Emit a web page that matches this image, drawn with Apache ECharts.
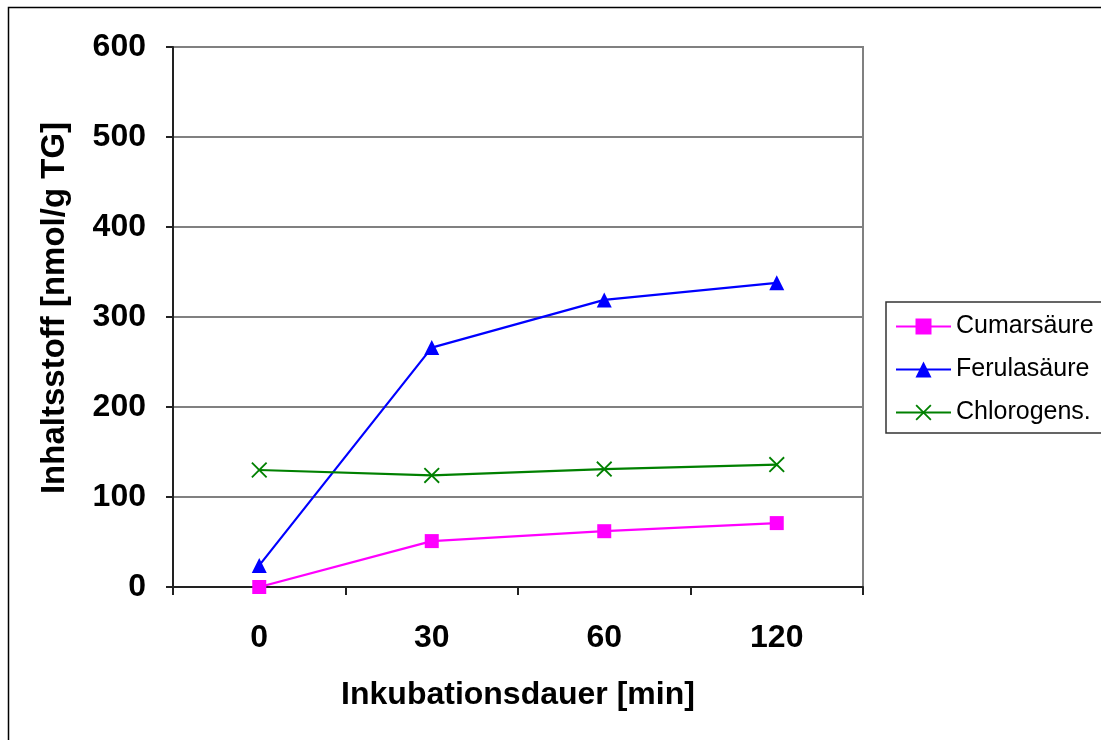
<!DOCTYPE html>
<html>
<head>
<meta charset="utf-8">
<script src="https://cdn.jsdelivr.net/npm/echarts@6/dist/echarts.min.js"></script>
<style>
  html, body { margin: 0; padding: 0; background: #fff; }
  #chart { width: 1101px; height: 740px; }
</style>
</head>
<body>
<div id="chart"></div>
<script>
// Incubation times (x categories) and compound contents per sample
const categories = ['0', '30', '60', '120'];
const cumarsaeure = [0, 51, 62, 71];
const ferulasaeure = [24, 266, 319, 338];
const chlorogens = [130, 124, 131, 136];
const yTicks = { min: 0, max: 600, interval: 100 };

const FONT = '"Liberation Sans", Arial, sans-serif';

// X-shaped marker built as a filled outline
const crossPath = 'path://M0,0.8L0.8,0L5,4.2L9.2,0L10,0.8L5.8,5L10,9.2L9.2,10L5,5.8L0.8,10L0,9.2L4.2,5Z';

const chart = echarts.init(document.getElementById('chart'), null, { renderer: 'canvas' });

chart.setOption({
  animation: false,
  backgroundColor: '#fff',
  textStyle: { fontFamily: FONT, color: '#000' },
  graphic: [
    {
      type: 'rect',
      left: 6, top: 5,
      shape: { width: 1200, height: 900 },
      style: { fill: 'none', stroke: '#000', lineWidth: 1.5 },
      z: -1
    },
    {
      type: 'text',
      x: 55, y: 308,
      rotation: Math.PI / 2,
      style: {
        text: 'Inhaltsstoff [nmol/g TG]',
        fontFamily: FONT, fontSize: 33, fontWeight: 'bold', fill: '#000',
        align: 'center', verticalAlign: 'middle'
      }
    }
  ],
  grid: {
    left: 173, top: 47, right: 238, bottom: 153,
    show: true, borderColor: '#808080', borderWidth: 2, containLabel: false
  },
  legend: {
    orient: 'vertical',
    left: 886, top: 302,
    padding: [12, 20, 8, 9],
    itemGap: 18,
    itemWidth: 55, itemHeight: 20,
    borderColor: '#333', borderWidth: 1.5,
    backgroundColor: '#fff',
    textStyle: { fontFamily: FONT, fontSize: 25, color: '#000' },
    data: ['Cumarsäure', 'Ferulasäure', 'Chlorogens.']
  },
  xAxis: {
    type: 'category',
    data: categories,
    boundaryGap: true,
    name: 'Inkubationsdauer [min]',
    nameLocation: 'middle',
    nameGap: 92,
    nameTextStyle: { fontFamily: FONT, fontSize: 32, fontWeight: 'bold', color: '#000' },
    axisLine: { lineStyle: { color: '#222', width: 2 } },
    axisTick: { show: true, inside: false, length: 8, lineStyle: { color: '#222', width: 2 } },
    axisLabel: { fontFamily: FONT, fontSize: 32, fontWeight: 'bold', color: '#000', margin: 35 },
    splitLine: { show: false }
  },
  yAxis: {
    type: 'value',
    min: yTicks.min, max: yTicks.max, interval: yTicks.interval,
    axisLine: { show: true, lineStyle: { color: '#222', width: 2 } },
    axisTick: { show: true, inside: false, length: 7, lineStyle: { color: '#222', width: 2 } },
    axisLabel: { fontFamily: FONT, fontSize: 32, fontWeight: 'bold', color: '#000', margin: 27, padding: [8, 0, 0, 0] },
    splitLine: { show: true, lineStyle: { color: '#808080', width: 2 } }
  },
  series: [
    {
      name: 'Cumarsäure', type: 'line', data: cumarsaeure,
      symbol: 'rect', symbolSize: 14,
      lineStyle: { color: '#FF00FF', width: 2.2 },
      itemStyle: { color: '#FF00FF' }
    },
    {
      name: 'Ferulasäure', type: 'line', data: ferulasaeure,
      symbol: 'triangle', symbolSize: 15,
      lineStyle: { color: '#0000FF', width: 2.2 },
      itemStyle: { color: '#0000FF' }
    },
    {
      name: 'Chlorogens.', type: 'line', data: chlorogens,
      symbol: crossPath, symbolSize: 16,
      lineStyle: { color: '#008000', width: 2.2 },
      itemStyle: { color: '#008000' }
    }
  ]
});
</script>
</body>
</html>
